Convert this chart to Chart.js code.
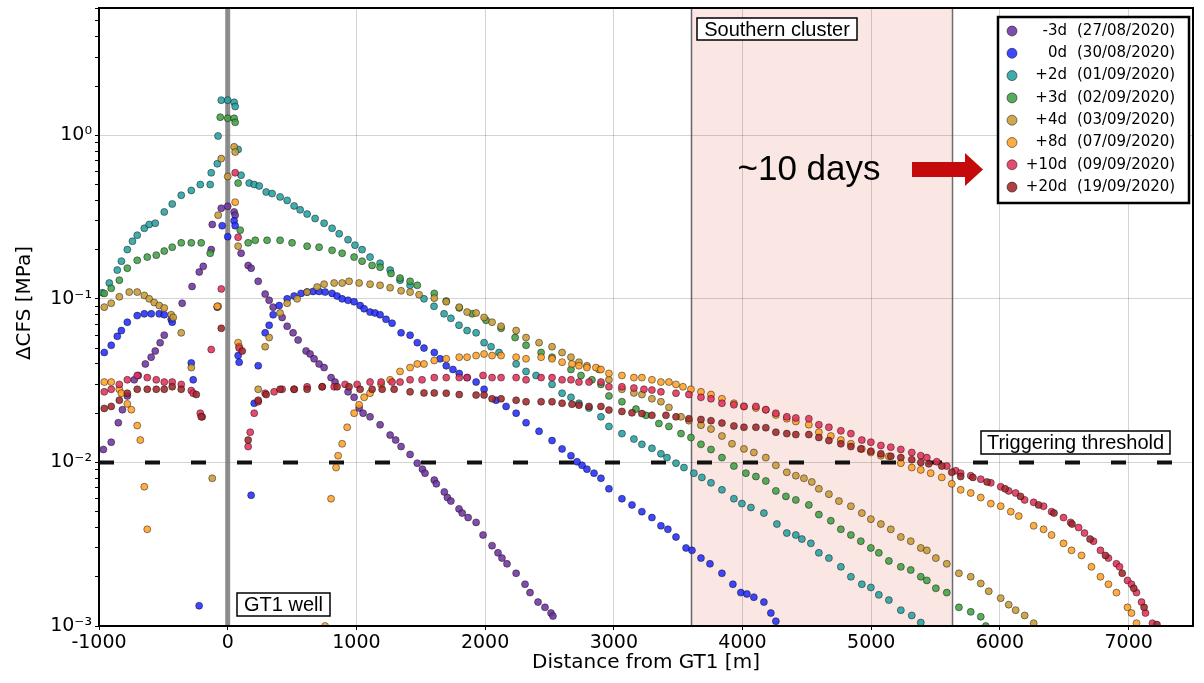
<!DOCTYPE html>
<html>
<head>
<meta charset="utf-8">
<script src="https://cdn.jsdelivr.net/npm/chart.js@4.4.1/dist/chart.umd.min.js"></script>
<style>
  html, body { margin: 0; padding: 0; background: #fff; }
</style>
</head>
<body>
<canvas id="chart" width="1204" height="683"></canvas>
<script>
// legend entries
const seriesLabels = ['-3d', '0d', '+2d', '+3d', '+4d', '+8d', '+10d', '+20d'];
const seriesDates = ['(27/08/2020)', '(30/08/2020)', '(01/09/2020)', '(02/09/2020)',
                     '(03/09/2020)', '(07/09/2020)', '(09/09/2020)', '(19/09/2020)'];
const seriesColors = ['rgba(112,52,160,0.88)', 'rgba(35,45,250,0.88)', 'rgba(40,160,160,0.88)',
                      'rgba(65,160,70,0.88)', 'rgba(200,155,55,0.88)', 'rgba(255,160,40,0.88)',
                      'rgba(225,50,90,0.88)', 'rgba(160,40,42,0.88)'];

const xTicks = [-1000, 0, 1000, 2000, 3000, 4000, 5000, 6000, 7000];
const yDecades = [0.001, 0.01, 0.1, 1];
const yDecadeLabels = ['10⁻³', '10⁻²', '10⁻¹', '10⁰'];
const threshold = 0.01;
const clusterRange = [3600, 5625];

// distance from GT1 [m] / ΔCFS [MPa]
const distM3 = [-966, -905, -850, -818, -780, -726, -695, -640, -595, -563, -525, -493, -354, -277, -221, -190, -128, -120, -50, 0,
  50, 58, 104, 159, 182, 237, 291, 322, 353, 423, 462, 508, 547, 609, 640, 671, 710, 749, 803, 834, 935, 982, 1021, 1052, 1106, 1184,
  1262, 1305, 1347, 1417, 1473, 1513, 1533, 1605, 1621, 1683, 1707, 1734, 1797, 1822, 1868, 1930, 1984, 2054, 2100, 2131, 2170,
  2241, 2310, 2349, 2411, 2465, 2512, 2527];
const cfsM3 = [0.012, 0.0133, 0.0175, 0.021, 0.0255, 0.032, 0.034, 0.040, 0.044, 0.048, 0.054, 0.060, 0.094, 0.119, 0.146, 0.158, 0.20, 0.285, 0.358, 0.368,
  0.34, 0.325, 0.19, 0.16, 0.154, 0.128, 0.107, 0.098, 0.089, 0.077, 0.068, 0.062, 0.056, 0.048, 0.046, 0.043, 0.040, 0.038, 0.033, 0.031, 0.027, 0.025, 0.0215, 0.020, 0.019, 0.017,
  0.0147, 0.0137, 0.0125, 0.0112, 0.0099, 0.0091, 0.0086, 0.0078, 0.0074, 0.0066, 0.0061, 0.0058, 0.0052, 0.0049, 0.0046, 0.0043, 0.0036, 0.0031, 0.0028, 0.0026, 0.0024,
  0.0021, 0.0018, 0.0016, 0.0014, 0.0013, 0.0012, 0.00115];

const dist0 = [-959, -905, -858, -826, -780, -703, -648, -594, -532, -493, -439, -431, -283, -268, -222, -81, -43, 0, 50, 58, 81, 89, 182, 206,
  237, 291, 322, 353, 400, 462, 516, 570, 617, 663, 710, 757, 811, 850, 889, 935, 982, 1029, 1060, 1106, 1145, 1184, 1230, 1277, 1347,
  1417, 1473, 1525, 1605, 1650, 1698, 1750, 1799, 1860, 1930, 1992, 2085, 2163, 2241, 2318, 2419, 2520, 2598, 2667, 2714, 2753, 2791,
  2846, 2900, 2962, 3063, 3141, 3218, 3296, 3366, 3420, 3483, 3561, 3607, 3677, 3747, 3840, 3925, 3987, 4034, 4088, 4166, 4220, 4259];
const cfs0 = [0.047, 0.052, 0.059, 0.064, 0.072, 0.079, 0.081, 0.081, 0.081, 0.080, 0.075, 0.072, 0.0406, 0.032, 0.00133, 0.089, 0.28, 0.24, 0.30, 0.28, 0.045, 0.041, 0.0063, 0.023,
  0.039, 0.062, 0.069, 0.080, 0.091, 0.100, 0.104, 0.108, 0.110, 0.111, 0.111, 0.110, 0.108, 0.104, 0.100, 0.098, 0.096, 0.091, 0.087, 0.083, 0.082, 0.080, 0.075, 0.071, 0.062,
  0.060, 0.054, 0.050, 0.047, 0.043, 0.039, 0.037, 0.035, 0.033, 0.031, 0.028, 0.024, 0.022, 0.020, 0.0175, 0.0155, 0.0136, 0.0121, 0.011, 0.0101, 0.0096, 0.0091,
  0.0086, 0.008, 0.0069, 0.006, 0.0055, 0.005, 0.0046, 0.0041, 0.0039, 0.0035, 0.0030, 0.0029, 0.0026, 0.0024, 0.0021, 0.0018, 0.0016, 0.00157, 0.0015, 0.0014, 0.0012, 0.00107];

const dist2 = [-975, -920, -858, -826, -780, -740, -703, -648, -610, -563, -493, -431, -361, -283, -213, -136, -128, -81, -75, -50, 0, 50, 58, 81, 104,
  167, 206, 245, 299, 345, 407, 462, 516, 563, 617, 679, 749, 811, 866, 935, 989, 1044, 1106, 1184, 1262, 1339, 1417, 1525, 1603, 1681,
  1734, 1797, 1860, 1930, 1992, 2046, 2108, 2241, 2318, 2396, 2520, 2598, 2667, 2729, 2807, 2900, 2962, 3063, 3156, 3218, 3296, 3366,
  3413, 3483, 3545, 3622, 3684, 3755, 3840, 3933, 3995, 4065, 4166, 4267, 4344, 4414, 4461, 4531, 4593, 4671, 4764, 4842, 4927, 4997,
  5059, 5137, 5230, 5315, 5385];
const cfs2 = [0.109, 0.125, 0.150, 0.17, 0.20, 0.225, 0.245, 0.27, 0.285, 0.29, 0.34, 0.38, 0.43, 0.46, 0.50, 0.50, 0.59, 0.67, 0.99, 1.64, 1.64, 1.59, 1.50, 0.82, 0.57,
  0.51, 0.50, 0.49, 0.45, 0.44, 0.42, 0.40, 0.37, 0.35, 0.33, 0.31, 0.29, 0.27, 0.25, 0.23, 0.213, 0.20, 0.18, 0.165, 0.15, 0.13, 0.121, 0.10, 0.090, 0.081,
  0.076, 0.069, 0.064, 0.062, 0.054, 0.051, 0.047, 0.040, 0.036, 0.034, 0.030, 0.0265, 0.025, 0.023, 0.0215, 0.019, 0.0166, 0.015, 0.0139, 0.0129, 0.0122, 0.0113,
  0.0107, 0.0099, 0.0093, 0.0086, 0.0081, 0.0075, 0.0068, 0.0060, 0.0056, 0.0053, 0.0049, 0.0042, 0.0037, 0.0036, 0.0034, 0.0032, 0.0028, 0.0026, 0.0023, 0.0020, 0.0018, 0.00172,
  0.00155, 0.00144, 0.00125, 0.00116, 0.00105];

const dist3 = [-959, -905, -842, -780, -703, -625, -555, -493, -431, -361, -283, -206, -136, -58, 0, 50, 58, 81, 97, 159, 214, 306, 407, 500,
  617, 710, 811, 889, 982, 1044, 1122, 1184, 1269, 1339, 1417, 1473, 1605, 1698, 1799, 1900, 2007, 2124, 2233, 2318, 2435, 2520, 2667,
  2745, 2830, 2900, 2962, 3063, 3172, 3250, 3350, 3428, 3522, 3599, 3677, 3755, 3840, 3933, 4026, 4104, 4181, 4259, 4337, 4414, 4515,
  4593, 4686, 4764, 4842, 4919, 4997, 5059, 5137, 5230, 5307, 5385, 5432, 5502, 5587, 5681, 5773, 5851, 5890];
const cfs3 = [0.108, 0.116, 0.13, 0.154, 0.172, 0.18, 0.185, 0.196, 0.207, 0.22, 0.22, 0.22, 0.19, 1.29, 1.27, 1.27, 1.20, 0.51, 0.263, 0.22, 0.228, 0.228, 0.228, 0.22,
  0.21, 0.207, 0.198, 0.19, 0.18, 0.17, 0.16, 0.156, 0.143, 0.134, 0.128, 0.121, 0.108, 0.097, 0.088, 0.081, 0.074, 0.066, 0.058, 0.052, 0.047, 0.044, 0.037,
  0.034, 0.032, 0.030, 0.0255, 0.0235, 0.0212, 0.0194, 0.0173, 0.0166, 0.015, 0.0142, 0.0129, 0.012, 0.0107, 0.0095, 0.0086, 0.0082, 0.0077, 0.0067, 0.0062, 0.0059, 0.0055,
  0.0048, 0.0044, 0.0039, 0.0036, 0.0033, 0.003, 0.0028, 0.0025, 0.0023, 0.0022, 0.002, 0.0019, 0.0017, 0.0016, 0.0013, 0.00122, 0.00114, 0.00100];

const dist4 = [-959, -905, -842, -765, -703, -648, -610, -571, -532, -493, -439, -423, -361, -283, -120, -74, -74, -50, 0, 50, 58, 81, 237, 291,
  322, 407, 462, 539, 617, 695, 749, 827, 889, 943, 1021, 1106, 1184, 1262, 1347, 1417, 1487, 1605, 1698, 1799, 1860, 1930, 1992, 2054,
  2124, 2241, 2318, 2419, 2520, 2598, 2667, 2729, 2791, 2885, 2962, 3063, 3156, 3218, 3296, 3366, 3428, 3522, 3583, 3677, 3755, 3840,
  3918, 4011, 4088, 4181, 4259, 4344, 4414, 4477, 4538, 4593, 4671, 4749, 4842, 4927, 4997, 5075, 5152, 5230, 5307, 5385, 5432, 5502,
  5587, 5681, 5773, 5851, 5913, 6006, 6068, 6122, 6192, 6262];
const cfs4 = [0.089, 0.094, 0.103, 0.11, 0.11, 0.105, 0.10, 0.095, 0.091, 0.088, 0.080, 0.077, 0.062, 0.038, 0.008, 0.09, 0.325, 0.72, 0.56, 0.85, 0.79, 0.21, 0.028, 0.051,
  0.058, 0.082, 0.094, 0.10, 0.11, 0.118, 0.123, 0.125, 0.125, 0.128, 0.125, 0.123, 0.121, 0.117, 0.112, 0.11, 0.106, 0.101, 0.096, 0.089, 0.083, 0.082, 0.077, 0.072,
  0.068, 0.064, 0.058, 0.054, 0.051, 0.047, 0.044, 0.041, 0.039, 0.037, 0.032, 0.028, 0.0266, 0.026, 0.0245, 0.0235, 0.0217, 0.019, 0.018, 0.0169, 0.016, 0.0145,
  0.013, 0.0121, 0.0115, 0.0107, 0.0096, 0.0087, 0.0083, 0.008, 0.0076, 0.0069, 0.0064, 0.0058, 0.0054, 0.0049, 0.0045, 0.0042, 0.0039, 0.0035, 0.0033, 0.003, 0.0029, 0.0026,
  0.0024, 0.0021, 0.0020, 0.00182, 0.00163, 0.00148, 0.00135, 0.00125, 0.00116, 0.00104];

const dist8 = [-959, -905, -842, -826, -780, -749, -703, -679, -648, -625, -81, 58, 81, 89, 757, 803, 842, 858, 889, 928, 982, 1021, 1060, 1106,
  1192, 1262, 1339, 1417, 1473, 1525, 1605, 1698, 1799, 1860, 1930, 1992, 2054, 2124, 2241, 2318, 2435, 2520, 2598, 2675, 2729, 2791,
  2861, 2900, 2962, 3063, 3156, 3218, 3296, 3366, 3428, 3483, 3537, 3599, 3677, 3755, 3840, 3933, 4011, 4104, 4181, 4259, 4344, 4414,
  4515, 4593, 4686, 4764, 4842, 4927, 4997, 5075, 5137, 5230, 5315, 5385, 5462, 5548, 5626, 5695, 5773, 5851, 5929, 6006, 6084, 6146,
  6262, 6339, 6401, 6494, 6556, 6634, 6711, 6781, 6843, 6905, 6991, 7022, 7061];
const cfs8 = [0.031, 0.031, 0.028, 0.0265, 0.0228, 0.021, 0.0168, 0.0137, 0.0071, 0.0039, 0.090, 0.39, 0.054, 0.051, 0.0010, 0.006, 0.0093, 0.011, 0.013, 0.0164, 0.020, 0.0225, 0.025, 0.0265,
  0.030, 0.032, 0.036, 0.038, 0.040, 0.040, 0.042, 0.043, 0.044, 0.044, 0.045, 0.046, 0.045, 0.045, 0.044, 0.043, 0.044, 0.043, 0.041, 0.040, 0.039, 0.038,
  0.038, 0.037, 0.035, 0.034, 0.033, 0.033, 0.032, 0.031, 0.031, 0.030, 0.029, 0.028, 0.027, 0.026, 0.0245, 0.023, 0.022, 0.0215, 0.021, 0.0195, 0.0185, 0.0178,
  0.017, 0.0153, 0.0145, 0.0137, 0.013, 0.0121, 0.0115, 0.011, 0.0109, 0.0099, 0.0093, 0.009, 0.0086, 0.0081, 0.0074, 0.0068, 0.0065, 0.0061, 0.0056, 0.0054, 0.005, 0.0047,
  0.0041, 0.0039, 0.0036, 0.0032, 0.0029, 0.0027, 0.0023, 0.002, 0.0018, 0.0016, 0.0013, 0.0012, 0.00104];

const dist10 = [-959, -905, -842, -780, -703, -625, -555, -493, -431, -361, -283, -268, -213, -198, -128, -50, 58, 81, 89, 159, 175, 206, 237, 291,
  361, 423, 516, 617, 734, 827, 912, 1006, 1106, 1192, 1277, 1339, 1417, 1510, 1605, 1698, 1799, 1860, 1984, 2054, 2124, 2241, 2318, 2435,
  2520, 2598, 2667, 2729, 2807, 2900, 2962, 3063, 3156, 3234, 3296, 3366, 3483, 3583, 3677, 3755, 3840, 3933, 4011, 4104, 4181, 4259,
  4344, 4414, 4515, 4593, 4671, 4764, 4842, 4927, 4997, 5075, 5152, 5230, 5315, 5385, 5432, 5509, 5587, 5657, 5695, 5773, 5851, 5929,
  6006, 6068, 6122, 6192, 6262, 6339, 6401, 6494, 6549, 6611, 6657, 6727, 6781, 6843, 6905, 6929, 6991, 7022, 7061, 7100, 7131, 7185];
const cfs10 = [0.027, 0.028, 0.030, 0.032, 0.034, 0.033, 0.032, 0.031, 0.031, 0.030, 0.0275, 0.0265, 0.020, 0.019, 0.049, 0.115, 0.59, 0.238, 0.05, 0.0125, 0.0153, 0.020, 0.0235, 0.0265,
  0.027, 0.028, 0.028, 0.029, 0.029, 0.029, 0.030, 0.030, 0.031, 0.031, 0.031, 0.031, 0.032, 0.032, 0.033, 0.033, 0.033, 0.033, 0.034, 0.033, 0.033, 0.033, 0.032, 0.033,
  0.033, 0.032, 0.032, 0.031, 0.031, 0.031, 0.029, 0.029, 0.0285, 0.028, 0.0277, 0.027, 0.0265, 0.026, 0.025, 0.0245, 0.023, 0.0225, 0.022, 0.022, 0.021, 0.020,
  0.019, 0.0187, 0.0185, 0.017, 0.0164, 0.0156, 0.015, 0.0137, 0.0133, 0.0127, 0.0124, 0.012, 0.0115, 0.011, 0.0107, 0.0101, 0.0095, 0.0089, 0.0086, 0.0083, 0.0079, 0.0075,
  0.0071, 0.0067, 0.0065, 0.0059, 0.0057, 0.0054, 0.005, 0.0046, 0.0043, 0.004, 0.0037, 0.0033, 0.0029, 0.0026, 0.0024, 0.0023, 0.0019, 0.0018, 0.0016, 0.0014, 0.0012, 0.00104];

const dist20 = [-959, -905, -842, -780, -703, -625, -555, -493, -431, -361, -244, -206, -50, 113, 159, 237, 299, 407, 516, 617, 734, 850, 943, 1029,
  1122, 1200, 1293, 1417, 1525, 1605, 1698, 1799, 1930, 1992, 2054, 2124, 2241, 2318, 2435, 2520, 2598, 2675, 2729, 2807, 2900, 2962,
  3063, 3141, 3218, 3296, 3405, 3483, 3583, 3677, 3755, 3840, 3933, 4011, 4104, 4181, 4259, 4344, 4414, 4515, 4593, 4671, 4764, 4842,
  4919, 4997, 5075, 5152, 5230, 5315, 5385, 5447, 5548, 5626, 5695, 5790, 5900, 6040, 6160, 6300, 6420, 6560, 6700, 6820, 6950, 7040,
  7120, 7220];
const cfs20 = [0.0214, 0.022, 0.024, 0.0265, 0.028, 0.028, 0.028, 0.028, 0.029, 0.028, 0.026, 0.019, 0.066, 0.048, 0.0137, 0.024, 0.026, 0.028, 0.028, 0.028, 0.029, 0.029, 0.029, 0.028,
  0.028, 0.028, 0.028, 0.027, 0.0266, 0.0266, 0.0265, 0.026, 0.0258, 0.0258, 0.0245, 0.0245, 0.024, 0.0235, 0.0235, 0.0235, 0.023, 0.0227, 0.0224, 0.022, 0.022, 0.0209,
  0.0205, 0.0201, 0.0199, 0.0194, 0.0194, 0.019, 0.0185, 0.0183, 0.018, 0.0174, 0.0167, 0.0164, 0.0164, 0.0163, 0.0153, 0.015, 0.0148, 0.0148, 0.0142, 0.0136, 0.013, 0.0125,
  0.0121, 0.0117, 0.0113, 0.0109, 0.0107, 0.0104, 0.0100, 0.0098, 0.0095, 0.0087, 0.0082, 0.0081, 0.0076, 0.0069, 0.0062, 0.0055, 0.0049, 0.0042, 0.0034, 0.0027, 0.0021, 0.0017,
  0.0013, 0.00102];

const seriesDist = [distM3, dist0, dist2, dist3, dist4, dist8, dist10, dist20];
const seriesCfs = [cfsM3, cfs0, cfs2, cfs3, cfs4, cfs8, cfs10, cfs20];

const isDecade = v => yDecades.some(d => Math.abs(v / d - 1) < 1e-6);

const pointSets = seriesLabels.map((lab, i) => ({
  label: lab,
  data: seriesDist[i].map((x, j) => ({ x, y: seriesCfs[i][j] })),
  backgroundColor: seriesColors[i],
  borderColor: 'rgba(0,0,0,0.55)',
  borderWidth: 0.8,
  pointRadius: 3.5,
  showLine: false,
  order: 20 - i
}));

// GT1 well trace and triggering threshold
const lineSets = [
  { data: [{ x: 0, y: 0.001 }, { x: 0, y: 6 }], showLine: true, borderColor: 'rgba(105,105,105,0.75)',
    borderWidth: 5, pointRadius: 0, order: 100 },
  { data: [{ x: -1000, y: threshold }, { x: 7500, y: threshold }], showLine: true, borderColor: '#111',
    borderWidth: 4, borderDash: [15, 31], pointRadius: 0, order: 99 }
];

const FONT_AX = 'DejaVu Sans';
const FONT_TXT = '"Liberation Sans", Arial, sans-serif';

function boxText(ctx, text, x0, y0, x1, y1) {
  ctx.fillStyle = '#fff';
  ctx.fillRect(x0, y0, x1 - x0, y1 - y0);
  ctx.strokeStyle = '#000';
  ctx.lineWidth = 1.5;
  ctx.strokeRect(x0, y0, x1 - x0, y1 - y0);
  ctx.fillStyle = '#000';
  ctx.font = '20px ' + FONT_TXT;
  ctx.textAlign = 'center';
  ctx.textBaseline = 'middle';
  ctx.fillText(text, (x0 + x1) / 2, (y0 + y1) / 2 + 1);
}

const overlay = {
  id: 'overlay',
  beforeDraw(chart) {
    const { ctx, chartArea: a, scales: { x } } = chart;
    const l = x.getPixelForValue(clusterRange[0]), r = x.getPixelForValue(clusterRange[1]);
    ctx.save();
    ctx.fillStyle = '#fae6e2';
    ctx.fillRect(l, a.top, r - l, a.bottom - a.top);
    ctx.restore();
  },
  beforeDatasetsDraw(chart) {
    const { ctx, chartArea: a, scales: { x } } = chart;
    ctx.save();
    ctx.strokeStyle = 'rgba(70,70,70,0.8)';
    ctx.lineWidth = 1.5;
    clusterRange.forEach(v => {
      const p = Math.round(x.getPixelForValue(v)) + 0.5;
      ctx.beginPath(); ctx.moveTo(p, a.top); ctx.lineTo(p, a.bottom); ctx.stroke();
    });
    ctx.restore();
  },
  afterDraw(chart) {
    const { ctx, chartArea: a } = chart;
    ctx.save();
    // frame
    ctx.strokeStyle = '#000';
    ctx.lineWidth = 2;
    ctx.strokeRect(a.left, a.top, a.right - a.left, a.bottom - a.top);

    boxText(ctx, 'GT1 well', 237, 593, 330, 616);
    boxText(ctx, 'Southern cluster', 697, 18, 857, 40);
    boxText(ctx, 'Triggering threshold', 981, 431, 1170, 454);

    ctx.fillStyle = '#000';
    ctx.font = '35px ' + FONT_TXT;
    ctx.textAlign = 'center';
    ctx.textBaseline = 'middle';
    ctx.fillText('~10 days', 809, 170);

    // red arrow
    ctx.fillStyle = '#c40a0a';
    ctx.beginPath();
    ctx.moveTo(912, 162); ctx.lineTo(965, 162); ctx.lineTo(965, 153); ctx.lineTo(983, 169.5);
    ctx.lineTo(965, 186); ctx.lineTo(965, 177); ctx.lineTo(912, 177); ctx.closePath();
    ctx.fill();

    // legend
    ctx.fillStyle = '#fff';
    ctx.fillRect(998, 17, 191, 186);
    ctx.lineWidth = 2.5;
    ctx.strokeStyle = '#000';
    ctx.strokeRect(998, 17, 191, 186);
    ctx.font = '15px ' + FONT_AX;
    ctx.textBaseline = 'middle';
    seriesLabels.forEach((lab, i) => {
      const y = 31 + i * 22.3;
      ctx.beginPath();
      ctx.arc(1012, y, 5, 0, Math.PI * 2);
      ctx.fillStyle = seriesColors[i];
      ctx.fill();
      ctx.lineWidth = 0.8;
      ctx.strokeStyle = 'rgba(0,0,0,0.6)';
      ctx.stroke();
      ctx.fillStyle = '#000';
      ctx.textAlign = 'right';
      ctx.fillText(lab, 1067, y);
      ctx.textAlign = 'left';
      ctx.fillText(seriesDates[i], 1077, y);
    });

    // axis titles
    ctx.font = '20px ' + FONT_AX;
    ctx.textAlign = 'center';
    ctx.fillText('Distance from GT1 [m]', (a.left + a.right) / 2, 663);
    ctx.translate(25, 303);
    ctx.rotate(-Math.PI / 2);
    ctx.fillText('ΔCFS [MPa]', 0, 0);
    ctx.restore();
  }
};

new Chart(document.getElementById('chart'), {
  type: 'scatter',
  data: { datasets: [...pointSets, ...lineSets] },
  plugins: [overlay],
  options: {
    responsive: false,
    animation: false,
    layout: { padding: { top: 8, right: 11, left: 0, bottom: 0 } },
    plugins: { legend: { display: false }, tooltip: { enabled: false } },
    scales: {
      x: {
        type: 'linear', min: -1000, max: 7500,
        afterBuildTicks: s => { s.ticks = xTicks.map(v => ({ value: v })); },
        afterFit: s => { s.height = 57; s.paddingLeft = 0; s.paddingRight = 0; },
        ticks: { color: '#000', font: { family: FONT_AX, size: 19 }, padding: 2, maxRotation: 0, autoSkip: false,
                 callback: v => String(v) },
        grid: { color: 'rgba(0,0,0,0.17)', tickColor: '#000', tickLength: 4 },
        border: { color: '#000', width: 2 }
      },
      y: {
        type: 'logarithmic', min: 0.001, max: 6,
        afterBuildTicks: s => {
          const t = [];
          yDecades.forEach(d => { for (let k = 1; k <= 9; k++) if (d * k <= 6) t.push({ value: d * k }); });
          s.ticks = t;
        },
        afterFit: s => { s.width = 99; s.paddingTop = 0; s.paddingBottom = 0; },
        ticks: { color: '#000', font: { family: FONT_AX, size: 19 }, padding: 3, autoSkip: false,
                 callback: v => { const i = yDecades.findIndex(d => Math.abs(v / d - 1) < 1e-6); return i < 0 ? '' : yDecadeLabels[i]; } },
        grid: { color: c => isDecade(c.tick.value) ? 'rgba(0,0,0,0.17)' : 'rgba(0,0,0,0)', tickColor: '#000', tickLength: 4 },
        border: { color: '#000', width: 2 }
      }
    }
  }
});
</script>
</body>
</html>
